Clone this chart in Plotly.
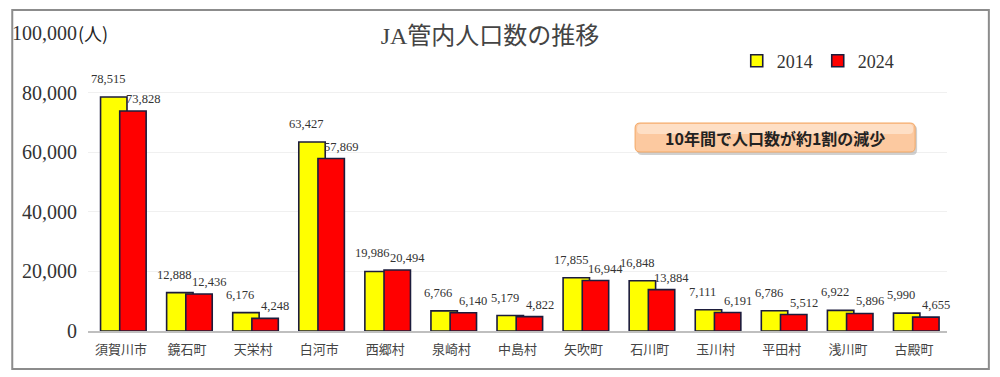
import plotly.graph_objects as go

categories = ["須賀川市", "鏡石町", "天栄村", "白河市", "西郷村", "泉崎村", "中島村",
              "矢吹町", "石川町", "玉川村", "平田村", "浅川町", "古殿町"]
pop_2014 = [78515, 12888, 6176, 63427, 19986, 6766, 5179, 17855, 16848, 7111, 6786, 6922, 5990]
pop_2024 = [73828, 12436, 4248, 57869, 20494, 6140, 4822, 16944, 13884, 6191, 5512, 5896, 4655]
series_names = ["2014", "2024"]
y_ticks = [0, 20000, 40000, 60000, 80000, 100000]
y_tick_labels = ["0", "20,000", "40,000", "60,000", "80,000", "100,000"]
title_text = "JA管内人口数の推移"
unit_text = "(人)"
note_text = "10年間で人口数が約1割の減少"

W, H = 1000, 377
ML, MR, MT, MB = 85, 53, 33, 46
PW, PH = W - ML - MR, H - MT - MB

def px_x(x):
    return (x - ML) / PW

def px_y(y):
    return (H - MB - y) / PH

SERIF = "Liberation Serif, DejaVu Serif, Noto Sans CJK JP"
CJK = "Noto Sans CJK JP, Noto Sans CJK SC"
OUTLINE = "#1c1c3c"

fig = go.Figure()
fig.add_trace(go.Bar(
    x=categories, y=pop_2014, name=series_names[0],
    marker=dict(color="#ffff00", line=dict(color=OUTLINE, width=1.6)),
    offset=-0.31, width=0.40,
))
fig.add_trace(go.Bar(
    x=categories, y=pop_2024, name=series_names[1],
    marker=dict(color="#ff0000", line=dict(color=OUTLINE, width=1.6)),
    offset=-0.02, width=0.40,
))

annotations = []
for c, v in zip(categories, pop_2014):
    annotations.append(dict(x=c, y=v, xref="x", yref="y", text=f"{v:,}", showarrow=False,
                            xanchor="center", yanchor="bottom", xshift=-13, yshift=9,
                            font=dict(family=SERIF, size=12.5, color="#333333")))
for c, v in zip(categories, pop_2024):
    annotations.append(dict(x=c, y=v, xref="x", yref="y", text=f"{v:,}", showarrow=False,
                            xanchor="center", yanchor="bottom", xshift=22, yshift=3,
                            font=dict(family=SERIF, size=12.5, color="#333333")))

annotations.append(dict(x=px_x(73), y=1, xref="paper", yref="paper", text=unit_text,
                        showarrow=False, xanchor="left", yanchor="middle",
                        font=dict(family=CJK, size=18, color="#222222")))
annotations.append(dict(x=px_x(774.5), y=px_y(137.5), xref="paper", yref="paper",
                        text="<b>" + note_text + "</b>", showarrow=False,
                        xanchor="center", yanchor="middle",
                        font=dict(family=CJK, size=16, color="#222222")))

def rounded(x0, y0, x1, y1, r):
    X = lambda v: px_x(v)
    Y = lambda v: px_y(v)
    return (f"M {X(x0+r)},{Y(y0)} L {X(x1-r)},{Y(y0)} Q {X(x1)},{Y(y0)} {X(x1)},{Y(y0+r)} "
            f"L {X(x1)},{Y(y1-r)} Q {X(x1)},{Y(y1)} {X(x1-r)},{Y(y1)} "
            f"L {X(x0+r)},{Y(y1)} Q {X(x0)},{Y(y1)} {X(x0)},{Y(y1-r)} "
            f"L {X(x0)},{Y(y0+r)} Q {X(x0)},{Y(y0)} {X(x0+r)},{Y(y0)} Z")

shapes = [
    dict(type="rect", xref="paper", yref="paper",
         x0=px_x(9), x1=px_x(989), y0=px_y(369), y1=px_y(10),
         line=dict(color="#8c8c8c", width=2), fillcolor="rgba(0,0,0,0)", layer="below"),
    dict(type="path", xref="paper", yref="paper", path=rounded(636, 125, 917, 155, 5),
         fillcolor="rgba(120,120,120,0.35)", line=dict(width=0)),
    dict(type="path", xref="paper", yref="paper", path=rounded(634, 123, 915, 152, 5),
         fillcolor="#fcc9a0", line=dict(color="#f3a865", width=1)),
    dict(type="path", xref="paper", yref="paper", path=rounded(636, 124, 913, 134, 4),
         fillcolor="rgba(255,240,228,0.55)", line=dict(width=0)),
]

fig.update_layout(
    width=W, height=H,
    margin=dict(l=ML, r=MR, t=MT, b=MB),
    paper_bgcolor="white", plot_bgcolor="white",
    barmode="overlay",
    title=dict(text=title_text, x=0.49, xanchor="center", y=1 - 36 / H, yanchor="middle",
               font=dict(family=SERIF, size=24, color="#444444")),
    legend=dict(orientation="h", x=px_x(736), y=px_y(61), xanchor="left", yanchor="middle",
                font=dict(family=SERIF, size=18, color="#333333"),
                bgcolor="rgba(0,0,0,0)", itemwidth=30, traceorder="normal"),
    xaxis=dict(type="category", showgrid=False, showline=True, linecolor="#bfbfbf",
               linewidth=1.5, ticks="", tickfont=dict(family=CJK, size=13, color="#444444"),
               range=[-0.5, len(categories) - 0.5], fixedrange=True,
               ticklabelstandoff=6),
    yaxis=dict(range=[0, 100000], tickvals=y_ticks, ticktext=y_tick_labels,
               showgrid=True, gridcolor="#f0f0f0", gridwidth=1, zeroline=False,
               tickfont=dict(family=SERIF, size=20, color="#333333"), ticks="",
               ticklabelstandoff=10),
    annotations=annotations,
    shapes=shapes,
    showlegend=True,
)

fig.write_html("out.html", post_script="document.body.style.margin='0';",
               config={"displayModeBar": False})
